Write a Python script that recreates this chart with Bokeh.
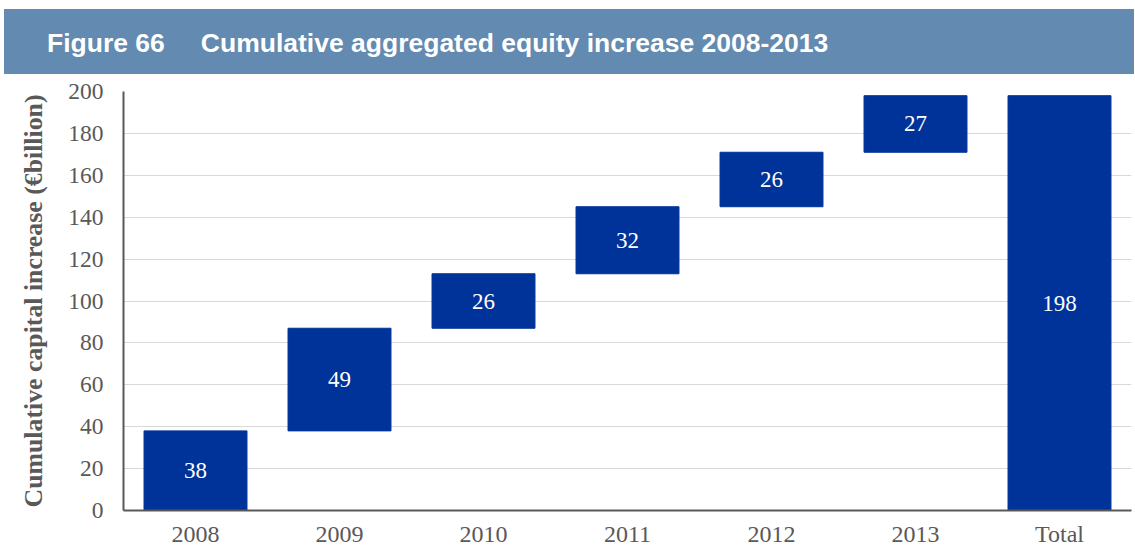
from bokeh.plotting import figure
from bokeh.models import Div, FactorRange, ColumnDataSource, FixedTicker, LabelSet
from bokeh.layouts import column
from bokeh.embed import file_html
from bokeh.resources import INLINE

categories = ["2008", "2009", "2010", "2011", "2012", "2013", "Total"]
increments = [38, 49, 26, 32, 26, 27]
total_value = 198
y_ticks = [0, 20, 40, 60, 80, 100, 120, 140, 160, 180, 200]

# waterfall bottoms/tops from the data
bottoms, tops, labels = [], [], []
running = 0
for v in increments:
    bottoms.append(running)
    running += v
    tops.append(running)
    labels.append(str(v))
bottoms.append(0)
tops.append(total_value)
labels.append(str(total_value))
mids = [(b + t) / 2 for b, t in zip(bottoms, tops)]

src = ColumnDataSource(dict(cat=categories, bottom=bottoms, top=tops, mid=mids, label=labels))

banner = Div(
    text='<div style="background:#638ab0;color:#ffffff;font-family:\'Liberation Sans\',Arial,sans-serif;'
         'font-weight:bold;font-size:26.5px;height:65px;line-height:69px;overflow:hidden;width:1130px;white-space:nowrap;">'
         '<span style="margin-left:43px;">Figure 66</span>'
         '<span style="margin-left:36px;">Cumulative aggregated equity increase 2008-2013</span></div>',
    width=1130, height=65, margin=(9, 0, 0, 4),
)

p = figure(
    x_range=FactorRange(*categories), y_range=(0, 200),
    width=1134, height=475,
    output_backend="svg", toolbar_location=None,
    min_border_left=123, min_border_right=3, min_border_top=17, min_border_bottom=30,
)
p.outline_line_color = None
p.background_fill_color = "white"

p.vbar(x="cat", bottom="bottom", top="top", width=0.715, source=src,
       fill_color="#003399", line_color="#003399")

p.add_layout(LabelSet(x="cat", y="mid", text="label", source=src,
                      text_color="white", text_font="Liberation Serif", text_font_size="23px",
                      text_align="center", text_baseline="middle"))

p.yaxis.ticker = FixedTicker(ticks=y_ticks)
p.xgrid.grid_line_color = None
p.ygrid.grid_line_color = "#d9d9d9"
p.ygrid.grid_line_width = 1

for ax in (p.xaxis, p.yaxis):
    ax.axis_line_color = "#595959"
    ax.axis_line_width = 2
    ax.major_tick_line_color = None
    ax.minor_tick_line_color = None
    ax.major_tick_out = 0
    ax.major_tick_in = 0
    ax.major_label_text_font = "Liberation Serif"
    ax.major_label_text_color = "#595959"

p.yaxis.major_label_text_font_size = "23.5px"
p.xaxis.major_label_text_font_size = "24px"
p.yaxis.major_label_standoff = 20
p.xaxis.major_label_standoff = 10
p.yaxis.axis_label = "Cumulative capital increase (€billion)"
p.yaxis.axis_label_text_font = "Liberation Serif"
p.yaxis.axis_label_text_font_style = "bold"
p.yaxis.axis_label_text_font_size = "25.8px"
p.yaxis.axis_label_text_color = "#595959"
p.yaxis.axis_label_standoff = 17

layout = column(banner, p, spacing=0)
open("out.html", "w").write(file_html(layout, INLINE))
